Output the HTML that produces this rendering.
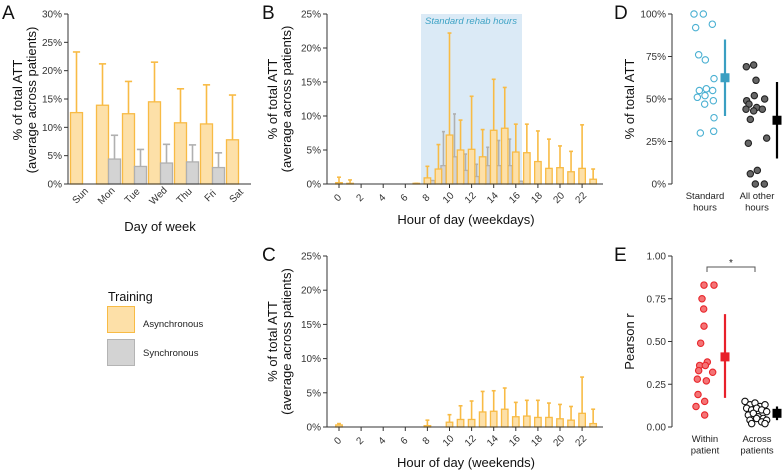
<!DOCTYPE html>
<html><head><meta charset="utf-8"><style>
body{margin:0;background:#fff;}
svg{display:block;font-family:"Liberation Sans",Arial,sans-serif;}
.tk{font-size:10px;fill:#333;}
.tt{font-size:13px;fill:#111;}
.lt{font-size:19px;fill:#111;}
</style></head><body>
<svg id="fig" width="782" height="471" viewBox="0 0 782 471">
<g id="gA"></g>
<g id="gB"></g>
<g id="gC"></g>
<g id="gD"></g>
<g id="gE"></g>
<g id="legend">
<text x="108" y="301" style="font-size:12.5px;fill:#111">Training</text>
<rect x="107.5" y="306.5" width="27" height="26" fill="#fde0a8" stroke="#f8bb45"/>
<text x="143" y="327" style="font-size:9.5px;fill:#222">Asynchronous</text>
<rect x="107.5" y="339.5" width="27" height="26" fill="#d3d3d3" stroke="#b4b4b4"/>
<text x="143" y="356" style="font-size:9.5px;fill:#222">Synchronous</text>
</g>
</svg>
<script>
// ---- Panel A data
const days=["Sun","Mon","Tue","Wed","Thu","Fri","Sat"];
const aAsync=[12.6,13.9,12.4,14.5,10.8,10.6,7.8];
const aAsyncErr=[23.3,21.2,18.1,21.5,16.8,17.5,15.7];
const aSync=[0,4.4,3.1,3.7,3.9,2.9,0];
const aSyncErr=[0,8.6,6.1,7.0,6.9,5.5,0];
const aTicks=[0,5,10,15,20,25,30];
// ---- Panel B data (weekdays)
const hours=[...Array(24).keys()];
const bAsync=[0.2,0.1,0,0,0,0,0,0.1,0.9,2.2,7.2,5.0,5.1,4.0,7.9,8.2,4.7,4.6,3.3,2.3,2.4,1.8,2.3,0.7];
const bAsyncErr=[1.0,0.6,0,0,0,0,0,0.1,2.6,5.8,22.2,9.4,12.9,8.0,15.4,14.2,8.8,8.8,7.8,6.6,5.6,4.8,8.7,2.2];
const bSync=[0,0,0,0,0,0,0,0,0.5,2.7,4.0,2.0,1.1,2.7,2.7,2.7,0.4,0,0,0,0,0,0,0];
const bSyncErr=[0,0,0,0,0,0,0,0,0.5,7.7,10.3,4.4,2.9,5.4,6.4,6.6,0.4,0,0,0,0,0,0,0];
const hTicks=[0,2,4,6,8,10,12,14,16,18,20,22];
const pTicks=[0,5,10,15,20,25];
// ---- Panel C data (weekends)
const cAsync=[0.3,0,0,0,0,0,0,0,0.2,0,0.7,1.1,1.1,2.2,2.3,2.6,1.5,1.6,1.4,1.4,1.2,1.0,2.0,0.5];
const cAsyncErr=[0.5,0,0,0,0,0,0,0,1.0,0,1.8,3.1,3.8,5.2,5.3,5.7,3.6,3.9,3.9,3.5,3.3,3.0,7.3,2.6];
// ---- Panel D data
const dStd=[100,100,92,94,76,73,62,55,56,55,51,52,49,47,39,30,31];
const dStdX=[372,400,377,427,386,406,432,388,409,428,382,405,430,404,432,391,431];
const dOther=[69,70,61,52,49,50,47,45,44,43,44,38,27,24,6,8,0,0];
const dOtherX=[529,551,558,553,530,584,537,560,528,551,577,541,590,535,541,562,556,583];
const dStdMean=[62.5,40,85];
const dOtherMean=[37.5,15,60];
const dTicks=[0,25,50,75,100];
// ---- Panel E data
const eWithin=[0.83,0.83,0.75,0.69,0.59,0.49,0.36,0.38,0.36,0.33,0.32,0.28,0.27,0.19,0.15,0.12,0.07];
const eWithinX=[402,432,396,401,402,392,389,412,406,386,428,382,409,384,404,378,404];
const eAcross=[0.15,0.13,0.14,0.12,0.13,0.11,0.10,0.11,0.10,0.09,0.07,0.08,0.06,0.05,0.04,0.05,0.03,0.04,0.02,0.02];
const eAcrossX=[165,180,195,210,225,170,185,200,215,230,175,190,205,220,180,200,215,230,185,225];
const eWithinMean=[0.41,0.17,0.66];
const eAcrossMean=[0.08,0.04,0.12];
const eTicks=[0,0.25,0.5,0.75,1.0];

const NS="http://www.w3.org/2000/svg";
function mk(parent,tag,attrs,text){const e=document.createElementNS(NS,tag);for(const k in attrs)e.setAttribute(k,attrs[k]);if(text!==undefined)e.textContent=text;parent.appendChild(e);return e;}
const OF="#fde0a8",OS="#f8bb45",GF="#d3d3d3",GS="#b0b0b0";

function barWithErr(g,cx,w,v,err,y,fill,stroke,nm){
  if(err>0){
    const l=mk(g,'line',{x1:cx,x2:cx,y1:y(v),y2:y(err),stroke:stroke,'stroke-width':1.6});
    
    
    const c=mk(g,'line',{x1:cx-w*0.3,x2:cx+w*0.3,y1:y(err),y2:y(err),stroke:stroke,'stroke-width':1.6});
    
    
  }
  if(v>0){
    const r=mk(g,'rect',{x:cx-w/2,y:y(v),width:w,height:y(0)-y(v),fill:fill,stroke:stroke,'stroke-width':1.3});
    
    
  }
}
function yAxis(g,x,y,ticks,fmt,top,bot){
  mk(g,'line',{x1:x,x2:x,y1:top,y2:bot,stroke:'#333','stroke-width':1});
  ticks.forEach(t=>{mk(g,'line',{x1:x-4,x2:x,y1:y(t),y2:y(t),stroke:'#333'});
    const tx=mk(g,'text',{x:x-6,y:y(t)+3.5,'text-anchor':'end',class:'tk'},fmt(t));
    
    });
}
function vTitle(g,cx,cy,lines){
  const t=mk(g,'text',{transform:`translate(${cx},${cy}) rotate(-90)`,'text-anchor':'middle',class:'tt'});
  
  
  lines.forEach((s,i)=>mk(t,'tspan',{x:0,dy:i?14:0},s));
}
function letter(g,x,y,s){const t=mk(g,'text',{x:x,y:y,class:'lt'},s);
  
  }

// ---- Panel A
(function(){
  const g=document.getElementById('gA');
  const y=v=>184-v/30*170, xc=i=>76.5+i*26;
  letter(g,2,19,'A');
  days.forEach((d,i)=>{
    barWithErr(g,xc(i),12,aAsync[i],aAsyncErr[i],y,OF,OS,'bar-async-'+d);
    barWithErr(g,xc(i)+12,12,aSync[i],aSyncErr[i],y,GF,GS,'bar-sync-'+d);
    const t=mk(g,'text',{transform:`translate(${xc(i)+6},${198}) rotate(-45)`,'text-anchor':'middle',class:'tk'},d);
    
    
  });
  yAxis(g,68,y,aTicks,t=>t+'%',14,184);
  mk(g,'line',{x1:68,x2:251,y1:184,y2:184,stroke:'#333'});
  vTitle(g,22,100,['% of total ATT','(average across patients)']);
  const xt=mk(g,'text',{x:160,y:231,'text-anchor':'middle',class:'tt'},'Day of week');
  
  
})();

function hourPanel(id,top,bot,asy,asyE,sy,syE,title,lab,shade){
  const g=document.getElementById(id);
  const y=v=>bot-v/25*(bot-top), xc=h=>339+h*11.05;
  letter(g,262,top+5,lab);
  if(shade){
    const r=mk(g,'rect',{x:421,y:top,width:101,height:bot-top,fill:'#dbeaf6'});
    
    
    const t=mk(g,'text',{x:471,y:top+10,'text-anchor':'middle',style:'font-size:9.5px;font-style:italic;fill:#3ea3c5'},'Standard rehab hours');
    
    
  }
  hours.forEach(h=>{
    if(sy) barWithErr(g,xc(h)+5,5,sy[h],syE[h],y,GF,GS,'bar-sync-h'+h);
    barWithErr(g,xc(h),6.5,asy[h],asyE[h],y,OF,OS,'bar-async-h'+h);
  });
  yAxis(g,327,y,pTicks,t=>t+'%',top,bot);
  mk(g,'line',{x1:327,x2:603,y1:bot,y2:bot,stroke:'#333'});
  hTicks.forEach(h=>{mk(g,'line',{x1:xc(h),x2:xc(h),y1:bot,y2:bot+4,stroke:'#333'});
    const t=mk(g,'text',{transform:`translate(${xc(h)+1},${bot+16}) rotate(-45)`,'text-anchor':'middle',class:'tk'},h);
    
    });
  vTitle(g,277,(top+bot)/2,['% of total ATT','(average across patients)']);
  const xt=mk(g,'text',{x:466,y:bot+40,'text-anchor':'middle',class:'tt'},title);
  
  
}
hourPanel('gB',14,184,bAsync,bAsyncErr,bSync,bSyncErr,'Hour of day (weekdays)','B',true);
hourPanel('gC',256,427,cAsync,cAsyncErr,null,null,'Hour of day (weekends)','C',false);

function dotPanel(id,top,bot,max,ticks,fmt,s1,s1x,s2,s2x,m1,m2,c1,c2,lab1,lab2,title,letterS){
  const g=document.getElementById(id);
  const y=v=>bot-v/max*(bot-top);
  letter(g,614,top+5,letterS);
  yAxis(g,672,y,ticks,fmt,top,bot);
  vTitle(g,634,(top+bot)/2,[title]);
  s1.forEach((v,i)=>{const c=mk(g,'circle',{cx:570+s1x[i]/3,cy:y(v),r:3.2,fill:c1.f,stroke:c1.s,'stroke-width':1.1});
    
    });
  s2.forEach((v,i)=>{const c=mk(g,'circle',{cx:570+s2x[i]/3,cy:y(v),r:3.2,fill:c2.f,stroke:c2.s,'stroke-width':1.1});
    
    });
  [[m1,725,c1.m],[m2,777,c2.m]].forEach(([m,x,col])=>{
    const l=mk(g,'line',{x1:x,x2:x,y1:y(m[1]),y2:y(m[2]),stroke:col,'stroke-width':2.2});
    
    
    const r=mk(g,'rect',{x:x-4.5,y:y(m[0])-4.5,width:9,height:9,fill:col});
    
    
  });
  [[lab1,705],[lab2,757]].forEach(([ls,x])=>{
    const t=mk(g,'text',{x:x,y:bot+15,'text-anchor':'middle',style:'font-size:9.5px;fill:#222'});
    
    
    ls.forEach((s,i)=>mk(t,'tspan',{x:x,dy:i?11.5:0},s));
  });
  return {g,y};
}
dotPanel('gD',14,184,100,dTicks,t=>t+'%',dStd,dStdX,dOther,dOtherX,dStdMean,dOtherMean,
  {f:'#fff',s:'#4ab0d2',m:'#3a9fc2'},{f:'#666',s:'#222',m:'#000'},['Standard','hours'],['All other','hours'],'% of total ATT','D');
(function(){
  const r=dotPanel('gE',256,427,1,eTicks,t=>t.toFixed(2),eWithin,eWithinX,eAcross,eAcrossX.map(v=>v+360),eWithinMean,eAcrossMean,
    {f:'#f47476',s:'#e8262b',m:'#e8202a'},{f:'#fff',s:'#111',m:'#000'},['Within','patient'],['Across','patients'],'Pearson r','E');
  const p=mk(r.g,'path',{d:'M707,272 V267 H755 V272',fill:'none',stroke:'#555','stroke-width':1});
  
  
  const s=mk(r.g,'text',{x:731,y:266,'text-anchor':'middle',style:'font-size:10px;fill:#222'},'*');
  
  
})();
</script>
</body></html>
